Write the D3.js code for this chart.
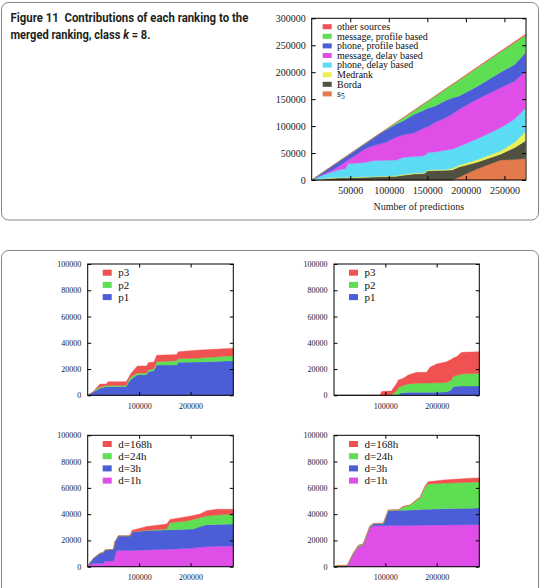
<!DOCTYPE html>
<html>
<head>
<meta charset="utf-8">
<script src="https://cdn.jsdelivr.net/npm/d3@7"></script>
<style>
body { margin: 0; background: #fff; }
</style>
</head>
<body>
<script>
// Figure 11 - contributions of each ranking (stacked, bottom layer first)
var predX = [0, 6700, 24600, 33600, 44000, 47000, 69600, 78600, 87600, 96600, 110000, 119000, 132500, 146000, 150500, 159500, 173000, 182000, 191000, 213500, 245000, 263000, 277000];
var s5Vals = [0,0,0,0,0,0,0,0,0,0,0,0,0,0,0,0,0,0,5000,20000,37000,38000,40000];
var bordaVals = [0,500,3000,3500,3900,4000,5000,5500,6000,6500,7000,9000,11000,12000,17000,17500,18000,18500,19000,12500,11000,22000,32500];
var medrankVals = [0,300,1000,1000,1000,1000,1000,1000,1000,1000,1000,1500,1500,1500,1500,1500,1500,3000,3500,4500,6000,9500,16500];
var phoneDelayVals = [0,4200,10000,14000,16100,25000,26500,29200,29000,29000,29000,31500,31000,31500,32500,33000,35500,35500,34500,38600,43000,43000,44000];
var msgDelayVals = [0,0,3000,5500,13000,7000,25500,27300,31000,33500,43000,42000,43500,52000,48000,54000,60000,65000,69000,73400,74000,70500,68500];
var phoneProfileVals = [0,1500,7000,8800,8900,8800,9900,13600,18400,23000,24000,26000,34700,33000,34000,31000,32000,30000,25000,23700,29000,31000,34000];
var msgProfileVals = [0,0,0,0,0,0,0,0,0,1000,3000,5600,7000,11700,13000,17800,20900,24500,29200,34300,37500,40800,32500];
var otherVals = [0,0,0,0,0,0,0,0,0,200,300,400,500,600,700,700,800,900,1000,1200,1400,1600,2000];

var topKeys = ["s5", "Borda", "Medrank", "phone, delay based", "message, delay based", "phone, profile based", "message, profile based", "other sources"];
var topColors = ["#e47a4c", "#505040", "#ecf055", "#5cdcf4", "#e04ee8", "#4b5ed8", "#5ede52", "#f05252"];
var topXTicks = [50000, 100000, 150000, 200000, 250000];
var topYTicks = [0, 50000, 100000, 150000, 200000, 250000, 300000];

// panel a: p1..p3, panel b: p1..p3
var aX = [0, 11000, 17500, 24000, 35600, 40100, 74500, 79000, 84200, 96500, 114600, 117900, 128900, 134000, 172900, 176100, 218200, 283000];
var aP1 = [0,2500,4000,5300,6600,6600,6600,9600,12200,15700,15700,18000,18800,23000,23000,25100,25400,26400];
var aP2 = [0,200,1000,1000,800,800,800,1400,2000,1300,1300,1300,1500,2600,3400,2800,3000,3800];
var aP3 = [0,100,1000,2300,1200,3000,3000,2000,2500,5300,5300,5600,5100,4900,4600,5300,6100,5600];

var bX = [0, 89600, 92800, 109000, 112300, 115500, 122000, 125300, 128500, 135000, 144700, 161000, 180400, 186900, 199900, 212900, 219400, 225900, 229100, 232300, 238800, 248600, 283000];
var bP1 = [0,0,0,0,0,0,0,500,1500,2000,2300,2300,2300,2300,2300,2500,2800,3500,4800,6600,6800,7000,7100];
var bP2 = [0,0,0,0,500,1500,3500,5300,5000,5400,6300,6800,7000,7100,7200,7100,7200,7500,6900,8100,8200,9200,9700];
var bP3 = [0,0,2800,3200,2800,4000,5500,5900,5500,5500,6900,8400,8200,11900,14400,15300,15500,15900,15800,13800,14400,16500,16400];

// panel c and d: d=1h .. d=168h
var cX = [0, 4500, 11000, 24000, 30400, 33700, 49900, 53100, 56300, 59600, 82200, 85500, 88700, 114600, 153500, 160000, 192300, 205300, 218200, 231200, 250600, 283000];
var c1h = [0,1300,2500,2500,2500,4300,4300,8000,12200,12300,12400,12400,12400,12800,13200,13300,13800,14200,15000,15200,15500,15700];
var c3h = [0,1700,3800,7700,8200,8400,8900,11000,8800,11100,11000,13100,14200,14700,14800,14800,14700,14500,15500,16800,16700,16800];
var c24h = [0,0,0,0,0,0,0,0,0,0,0,0,0,200,700,5400,6300,7300,6800,6600,7100,7600];
var c168h = [0,0,0,0,0,0,0,0,0,0,0,1900,1400,2800,3800,2500,3300,3000,2800,4000,4400,3600];

var dX = [0, 5200, 24700, 27900, 37600, 47400, 57100, 70100, 76600, 96100, 105800, 125300, 135000, 148000, 161000, 167400, 177200, 183700, 212900, 264800, 283000];
var d1h = [0,0,0,2000,9600,15200,16500,29700,31200,31200,31300,31400,31400,31400,31500,31500,31600,31600,31800,32000,32000];
var d3h = [0,0,0,0,0,0,0,300,1300,1300,11300,11500,11600,11700,11900,12000,12100,12200,12300,12500,12700];
var d24h = [0,1000,1000,500,600,1000,800,1000,200,500,500,200,2700,3600,7400,8500,16700,19100,19400,19700,19800];
var d168h = [0,0,100,100,100,100,100,100,100,100,100,200,300,300,400,800,1000,1800,2500,3100,3000];

var pKeys = ["p1", "p2", "p3"];
var pColors = ["#4b5ed8", "#5ede52", "#f05252"];
var dKeys = ["d=1h", "d=3h", "d=24h", "d=168h"];
var dColors = ["#e04ee8", "#4b5ed8", "#5ede52", "#f05252"];
var smallXTicks = [100000, 200000];
var smallYTicks = [0, 20000, 40000, 60000, 80000, 100000];

var width = 540;
var height = 588;
var serif = "'Liberation Serif', 'Times New Roman', serif";

var svg = d3.select("body")
    .append("svg")
    .attr("width", width)
    .attr("height", height);

// rounded frames
svg.append("rect")
    .attr("x", 1.5).attr("y", 2.5)
    .attr("width", 537).attr("height", 217.5)
    .attr("rx", 7).attr("ry", 7)
    .attr("fill", "none").attr("stroke", "#858585").attr("stroke-width", 1);
svg.append("rect")
    .attr("x", 1.5).attr("y", 250.5)
    .attr("width", 537).attr("height", 380)
    .attr("rx", 7).attr("ry", 7)
    .attr("fill", "none").attr("stroke", "#858585").attr("stroke-width", 1);

// caption: measured then squeezed horizontally to the printed width
function fitLine(x, y, w, build) {
    var t = svg.append("text")
        .attr("font-family", "Roboto, 'Liberation Sans', sans-serif")
        .attr("font-weight", "bold")
        .attr("font-size", "12.5px")
        .attr("fill", "#231f20");
    build(t);
    var len = t.node().getComputedTextLength();
    t.attr("transform", "translate(" + x + "," + y + ") scale(" + (w / len) + ",1)");
}
fitLine(10.5, 21.5, 238, function(t) {
    t.text("Figure 11\u00a0\u00a0Contributions of each ranking to the");
});
fitLine(10.5, 38.5, 140, function(t) {
    t.append("tspan").text("merged ranking, class ");
    t.append("tspan").attr("font-style", "italic").text("k");
    t.append("tspan").text(" = 8.");
});

function makeRows(xs, keys, series) {
    return xs.map(function(x, i) {
        var row = {x: x};
        keys.forEach(function(k, j) { row[k] = series[j][i]; });
        return row;
    });
}

function drawPanel(opt) {
    var g = svg.append("g");
    var xScale = d3.scaleLinear().domain([0, opt.xMax]).range([opt.left, opt.right]);
    var yScale = d3.scaleLinear().domain([0, opt.yMax]).range([opt.bottom, opt.top]);

    var stacked = d3.stack().keys(opt.keys)(opt.rows);
    var area = d3.area()
        .x(function(d) { return xScale(d.data.x); })
        .y0(function(d) { return yScale(d[0]); })
        .y1(function(d) { return yScale(d[1]); });

    g.selectAll("path.layer")
        .data(stacked)
        .enter()
        .append("path")
        .attr("class", "layer")
        .attr("fill", function(d, i) { return opt.colors[i]; })
        .attr("stroke", function(d, i) { return opt.colors[i]; })
        .attr("stroke-width", 0.4)
        .attr("d", area);

    var ts = opt.tick;
    var xAxis = d3.axisBottom(xScale).tickValues(opt.xTicks)
        .tickSizeInner(-ts).tickSizeOuter(0).tickPadding(opt.xPad).tickFormat(d3.format("d"));
    var xAxisTop = d3.axisTop(xScale).tickValues(opt.xTicks)
        .tickSizeInner(-ts).tickSizeOuter(0).tickFormat("");
    var yAxis = d3.axisLeft(yScale).tickValues(opt.yTicks)
        .tickSizeInner(-ts).tickSizeOuter(0).tickPadding(opt.yPad).tickFormat(d3.format("d"));
    var yAxisRight = d3.axisRight(yScale).tickValues(opt.yTicks)
        .tickSizeInner(-ts).tickSizeOuter(0).tickFormat("");

    var axes = [
        g.append("g").attr("transform", "translate(0," + opt.bottom + ")").call(xAxis),
        g.append("g").attr("transform", "translate(0," + opt.top + ")").call(xAxisTop),
        g.append("g").attr("transform", "translate(" + opt.left + ",0)").call(yAxis),
        g.append("g").attr("transform", "translate(" + opt.right + ",0)").call(yAxisRight)
    ];
    axes.forEach(function(a) {
        a.select(".domain").remove();
        a.selectAll("line").attr("stroke", "#000");
        a.selectAll("text")
            .attr("font-family", serif)
            .attr("font-size", opt.tickFont + "px")
            .attr("fill", "#222");
    });

    g.append("rect")
        .attr("x", opt.left).attr("y", opt.top)
        .attr("width", opt.right - opt.left).attr("height", opt.bottom - opt.top)
        .attr("fill", "none").attr("stroke", "#000").attr("stroke-width", 1);

    // legend, top entry = last layer
    var items = opt.keys.map(function(k, i) { return {key: k, color: opt.colors[i]}; }).reverse();
    var leg = g.selectAll("g.leg")
        .data(items)
        .enter()
        .append("g")
        .attr("class", "leg")
        .attr("transform", function(d, i) {
            return "translate(" + (opt.left + opt.legX) + "," + (opt.top + opt.legY + i * opt.legStep) + ")";
        });
    leg.append("rect")
        .attr("x", 0).attr("y", -opt.swH / 2)
        .attr("width", 9).attr("height", opt.swH)
        .attr("fill", function(d) { return d.color; });
    var lt = leg.append("text")
        .attr("x", opt.legText)
        .attr("dy", "0.33em")
        .attr("font-family", serif)
        .attr("font-size", opt.legFont + "px")
        .attr("fill", "#111");
    lt.each(function(d) {
        var t = d3.select(this);
        if (d.key === "s5") {
            t.append("tspan").text("s");
            t.append("tspan").attr("font-size", (opt.legFont * 0.75) + "px").attr("dy", "0.3em").text("5");
        } else {
            t.text(d.key);
        }
    });
    return {x: xScale, y: yScale};
}

var topRows = makeRows(predX, topKeys,
    [s5Vals, bordaVals, medrankVals, phoneDelayVals, msgDelayVals, phoneProfileVals, msgProfileVals, otherVals]);
drawPanel({
    rows: topRows, keys: topKeys, colors: topColors,
    left: 311.7, right: 526, top: 18.3, bottom: 180,
    xMax: 278000, yMax: 300000, xTicks: topXTicks, yTicks: topYTicks,
    tick: 4, xPad: 7, yPad: 6, tickFont: 10,
    legX: 11, legY: 8.4, legStep: 9.6, legText: 14.3, legFont: 10, swH: 5
});
svg.append("text")
    .attr("x", 418.8).attr("y", 209.5)
    .attr("text-anchor", "middle")
    .attr("font-family", serif)
    .attr("font-size", "10px")
    .attr("fill", "#222")
    .text("Number of predictions");

var panels = [
    {rows: makeRows(aX, pKeys, [aP1, aP2, aP3]), keys: pKeys, colors: pColors, left: 87.7, right: 233.3, top: 264, bottom: 395.3},
    {rows: makeRows(bX, pKeys, [bP1, bP2, bP3]), keys: pKeys, colors: pColors, left: 334, right: 479.3, top: 264, bottom: 395.3},
    {rows: makeRows(cX, dKeys, [c1h, c3h, c24h, c168h]), keys: dKeys, colors: dColors, left: 87.7, right: 233.3, top: 435.3, bottom: 566.7},
    {rows: makeRows(dX, dKeys, [d1h, d3h, d24h, d168h]), keys: dKeys, colors: dColors, left: 334, right: 479.3, top: 435.3, bottom: 566.7}
];
panels.forEach(function(p) {
    p.xMax = 283000;
    p.yMax = 100000;
    p.xTicks = smallXTicks;
    p.yTicks = smallYTicks;
    p.tick = 3.5;
    p.xPad = 8;
    p.yPad = 6.5;
    p.tickFont = 8;
    p.legX = 15;
    p.legY = 8.7;
    p.legStep = 12.2;
    p.legText = 15.6;
    p.legFont = 11;
    p.swH = 6;
    drawPanel(p);
});
</script>
</body>
</html>
